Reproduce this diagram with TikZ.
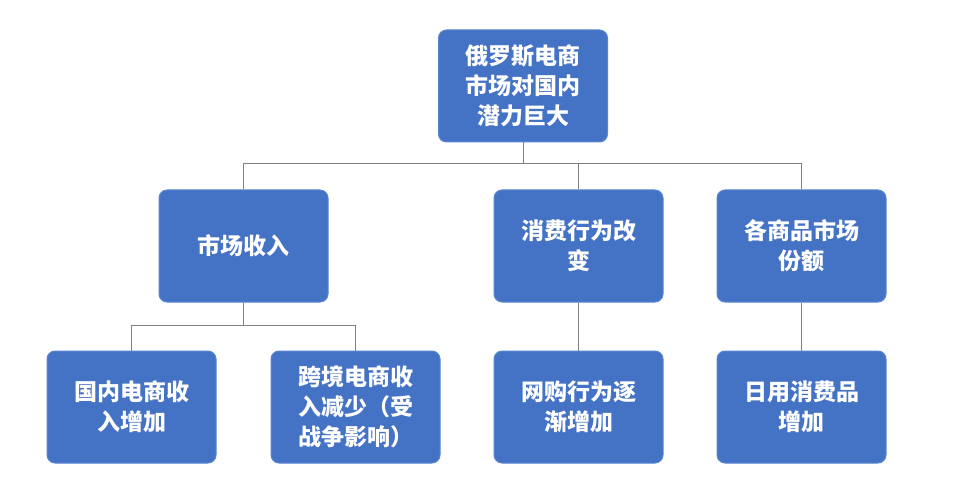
\documentclass[tikz,border=0pt]{standalone}
\usepackage{fontspec}
\newfontfamily\cjk{Noto Sans CJK SC}
\usetikzlibrary{positioning,calc}
\definecolor{boxblue}{HTML}{4472C4}
\definecolor{boxedge}{HTML}{5B86D0}
\definecolor{linegray}{HTML}{7F7F7F}

\begin{document}
\begin{tikzpicture}[x=1pt,y=-1pt,
    topic/.style={rectangle, draw=boxedge, fill=boxblue, rounded corners=8pt, line width=1pt,
      minimum width=169pt, minimum height=112pt, text=white, align=center,
      font=\cjk\bfseries\fontsize{23}{30}\selectfont},
    conn/.style={draw=linegray, line width=1pt}
]
    \useasboundingbox[fill=white] (0,0) rectangle (956,497);

    \node[topic] (root) at (523,86) {俄罗斯电商\\市场对国内\\潜力巨大};

    \node[topic] (market) at (243.5,246) {市场收入};
    \node[topic] (consume) at (578.5,246) {消费行为改\\变};
    \node[topic] (share) at (801.5,246) {各商品市场\\份额};

    \node[topic] (domestic) at (131.5,407) {国内电商收\\入增加};
    \node[topic] (cross) at (355.5,407) {跨境电商收\\入减少（受\\战争影响）};
    \node[topic] (online) at (578.5,407) {网购行为逐\\渐增加};
    \node[topic] (daily) at (801.5,407) {日用消费品\\增加};

    % Connectors
    \coordinate (bus1) at (523,164);
    \coordinate (bus2) at (243.5,325);
    \draw[conn] (root) -- (bus1);
    \draw[conn] (bus1) -| (market);
    \draw[conn] (bus1) -| (share);
    \draw[conn] (consume.north |- bus1) -- (consume);
    \draw[conn] (market) -- (bus2);
    \draw[conn] (bus2) -| (domestic);
    \draw[conn] (bus2) -| (cross);
    \draw[conn] (consume) -- (online);
    \draw[conn] (share) -- (daily);
\end{tikzpicture}
\end{document}
